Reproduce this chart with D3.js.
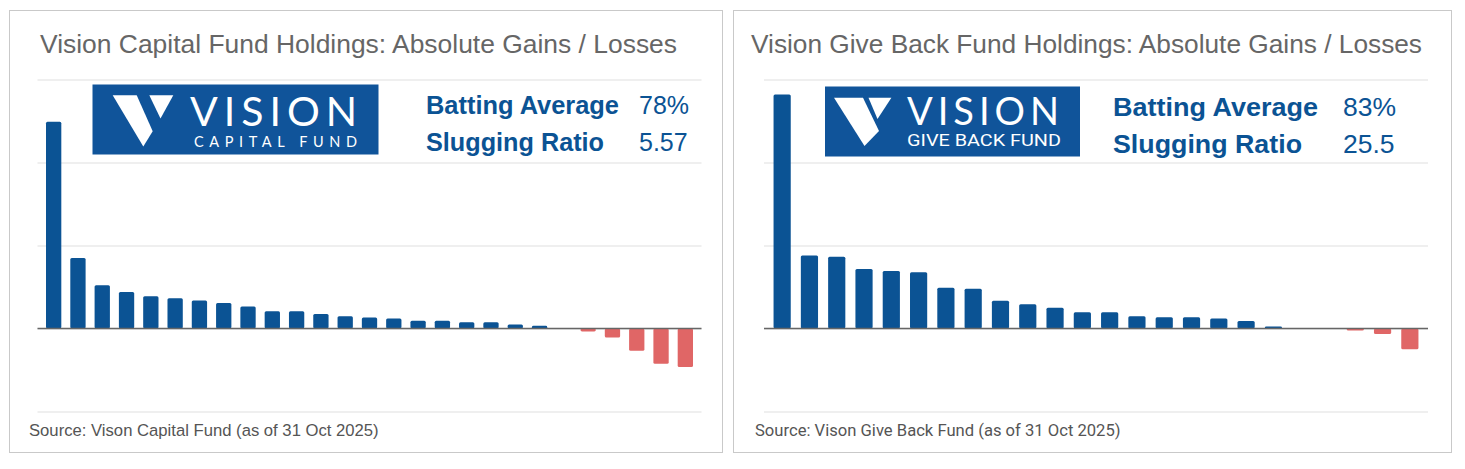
<!DOCTYPE html>
<html><head><meta charset="utf-8">
<script src="https://cdn.jsdelivr.net/npm/d3@7"></script>
<style>body{margin:0;background:#fff}</style>
</head><body>
<svg id="chart" width="1465" height="469"></svg>
<script>
// ---------------- data ----------------
const capitalValues = [2.49, 0.85, 0.52, 0.44, 0.39, 0.364, 0.336, 0.308, 0.264, 0.208, 0.208, 0.176, 0.148, 0.132, 0.12, 0.092, 0.092, 0.076, 0.076, 0.048, 0.032, 0, -0.036, -0.108, -0.268, -0.424, -0.465];
const giveBackValues = [2.82, 0.88, 0.865, 0.717, 0.693, 0.677, 0.49, 0.478, 0.335, 0.291, 0.251, 0.195, 0.195, 0.147, 0.135, 0.135, 0.12, 0.09, 0.024, 0, 0.004, -0.024, -0.065, -0.25];
const yTickValues = [-1, 0, 1, 2, 3];
const panelTitles = ["Vision Capital Fund Holdings: Absolute Gains / Losses", "Vision Give Back Fund Holdings: Absolute Gains / Losses"];
const sourceNotes = ["Source: Vison Capital Fund (as of 31 Oct 2025)", "Source: Vison Give Back Fund (as of 31 Oct 2025)"];
const statLabels = ["Batting Average", "Slugging Ratio"];
const capitalStats = ["78%", "5.57"];
const giveBackStats = ["83%", "25.5"];
const logoWord = "VISION";
const logoSubtitles = ["CAPITAL FUND", "GIVE BACK FUND"];

// ---------------- layout ----------------
const BLUE = "#0b5394", RED = "#e06666", LOGO = "#10549a";
const panels = [
  { values: capitalValues, stats: capitalStats, title: panelTitles[0], note: sourceNotes[0], sub: logoSubtitles[0],
    border: [9.5, 10.5, 713, 442], plotX: [37.5, 701.5],
    title_: {x: 40, y: 53, w: 637, fs: 25.5, font: "Liberation Sans, Arial, sans-serif"},
    note_: {x: 29, y: 436, w: 350, font: "Liberation Sans, Arial, sans-serif"},
    logo: {x: 92.5, y: 84.5, w: 286, h: 70,
      arm: [[112.7,95.3],[136.7,95.3],[152.7,131.3],[143.3,146.5]],
      tri: [[149.3,95.3],[173.3,95.3],[160.5,118.5]],
      word: {x: 190, y: 125.5, w: 167, fs: 41},
      sub: {x: 194, y: 146.5, w: 163, fs: 14.5, font: "Lato, Open Sans, sans-serif", adj: "spacing"}},
    stat: {x: 426, vx: 639, y1: 114, y2: 151, w: 193, w2: 178, fs: 25}
  },
  { values: giveBackValues, stats: giveBackStats, title: panelTitles[1], note: sourceNotes[1], sub: logoSubtitles[1],
    border: [733.5, 10.5, 718, 442], plotX: [764, 1428],
    title_: {x: 751, y: 53, w: 671, fs: 25.5, font: "Liberation Sans, Arial, sans-serif"},
    note_: {x: 755, y: 436, w: 366, font: "Roboto, sans-serif"},
    logo: {x: 825, y: 86.5, w: 255, h: 70,
      arm: [[834,97.7],[863,97.7],[879,131],[864.5,146]],
      tri: [[868.5,97.7],[891.4,97.7],[877.5,119]],
      word: {x: 907, y: 125, w: 152, fs: 38},
      sub: {x: 907, y: 146, w: 154, fs: 16, font: "Roboto, sans-serif", adj: "spacingAndGlyphs"}},
    stat: {x: 1113, vx: 1343, y1: 116, y2: 153, w: 205, w2: 189, fs: 26.5}
  }
];

const svg = d3.select("#chart");
const y = d3.scaleLinear().domain([-1, 3]).range([411.5, 79.5]);

function fitWidth(sel, w) {
  const cur = sel.node().getComputedTextLength();
  const fs = parseFloat(sel.attr("font-size"));
  if (cur > 0) sel.attr("font-size", fs * w / cur);
}
function squeeze(sel, w) {
  sel.attr("textLength", w).attr("lengthAdjust", "spacingAndGlyphs");
}

panels.forEach(p => {
  const g = svg.append("g");
  // border
  g.append("rect").attr("x", p.border[0]).attr("y", p.border[1]).attr("width", p.border[2]).attr("height", p.border[3])
    .attr("fill", "#fff").attr("stroke", "#c9c9c9").attr("stroke-width", 1);

  // title
  const t = g.append("text").attr("x", p.title_.x).attr("y", p.title_.y).text(p.title)
    .attr("font-family", p.title_.font).attr("font-size", p.title_.fs).attr("fill", "#666");
  squeeze(t, p.title_.w);

  // scales
  const x = d3.scaleBand().domain(d3.range(p.values.length)).range(p.plotX).paddingInner(0.37).paddingOuter(0.35);

  // gridlines
  const grid = g.append("g").attr("transform", `translate(${p.plotX[0]},0)`)
    .call(d3.axisLeft(y).tickValues(yTickValues).tickSize(-(p.plotX[1] - p.plotX[0])).tickFormat(""));
  grid.select(".domain").remove();
  grid.selectAll(".tick line").attr("stroke", "#e0e0e0").attr("stroke-width", 1.2);

  // bars
  g.append("g").selectAll("rect").data(p.values).join("rect")
    .attr("x", (d, i) => x(i))
    .attr("width", x.bandwidth())
    .attr("y", d => Math.min(y(d), y(0)))
    .attr("height", d => Math.abs(y(d) - y(0)))
    .attr("rx", 1.5)
    .attr("fill", d => d >= 0 ? BLUE : RED);

  // zero line
  g.append("line").attr("x1", p.plotX[0]).attr("x2", p.plotX[1]).attr("y1", y(0)).attr("y2", y(0))
    .attr("stroke", "#666").attr("stroke-width", 1.3);

  // logo
  const L = p.logo;
  g.append("rect").attr("x", L.x).attr("y", L.y).attr("width", L.w).attr("height", L.h).attr("fill", LOGO);
  g.append("polygon").attr("points", L.arm.map(q => q.join(",")).join(" ")).attr("fill", "#fff");
  g.append("polygon").attr("points", L.tri.map(q => q.join(",")).join(" ")).attr("fill", "#fff");
  g.append("text").attr("x", L.word.x).attr("y", L.word.y).text(logoWord)
    .attr("font-family", "Lato, Open Sans, sans-serif").attr("font-weight", 400)
    .attr("font-size", L.word.fs).attr("fill", "#fff")
    .attr("textLength", L.word.w).attr("lengthAdjust", "spacing");
  g.append("text").attr("x", L.sub.x).attr("y", L.sub.y).text(p.sub)
    .attr("font-family", L.sub.font).attr("font-weight", 400)
    .attr("font-size", L.sub.fs).attr("fill", "#fff")
    .attr("textLength", L.sub.w).attr("lengthAdjust", L.sub.adj);

  // stats
  const s = p.stat;
  const ba = g.append("text").attr("x", s.x).attr("y", s.y1).text(statLabels[0])
    .attr("font-family", "Liberation Sans, Arial, sans-serif").attr("font-weight", "bold")
    .attr("font-size", s.fs).attr("fill", BLUE);
  squeeze(ba, s.w);
  const sr = g.append("text").attr("x", s.x).attr("y", s.y2).text(statLabels[1])
    .attr("font-family", "Liberation Sans, Arial, sans-serif").attr("font-weight", "bold")
    .attr("font-size", s.fs).attr("fill", BLUE);
  squeeze(sr, s.w2);
  g.append("text").attr("x", s.vx).attr("y", s.y1).text(p.stats[0])
    .attr("font-family", "Liberation Sans, Arial, sans-serif").attr("font-size", s.fs).attr("fill", BLUE);
  g.append("text").attr("x", s.vx).attr("y", s.y2).text(p.stats[1])
    .attr("font-family", "Liberation Sans, Arial, sans-serif").attr("font-size", s.fs).attr("fill", BLUE);

  // source note
  const n = g.append("text").attr("x", p.note_.x).attr("y", p.note_.y).text(p.note)
    .attr("font-family", p.note_.font).attr("font-size", 15).attr("fill", "#555");
  fitWidth(n, p.note_.w);
});
</script>
</body></html>
